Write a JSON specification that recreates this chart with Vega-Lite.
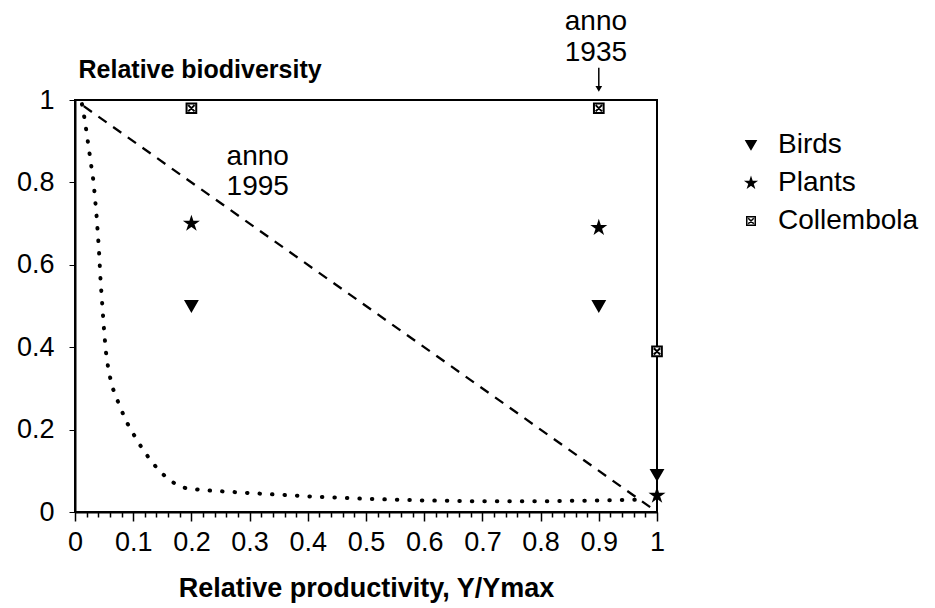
{
  "$schema": "https://vega.github.io/schema/vega-lite/v6.json",
  "width": 582,
  "height": 412,
  "autosize": "none",
  "padding": {"left": 75, "top": 100, "right": 278, "bottom": 96},
  "background": "white",
  "config": {
    "font": "Liberation Sans",
    "view": {"stroke": "black", "strokeWidth": 2}
  },
  "encoding": {
    "x": {
      "field": "x",
      "type": "quantitative",
      "scale": {"domain": [0, 1], "nice": false, "zero": false},
      "axis": {
        "values": [0, 0.02, 0.04, 0.06, 0.08, 0.1, 0.12, 0.14, 0.16, 0.18, 0.2, 0.22, 0.24, 0.26, 0.28, 0.3, 0.32, 0.34, 0.36, 0.38, 0.4, 0.42, 0.44, 0.46, 0.48, 0.5, 0.52, 0.54, 0.56, 0.58, 0.6, 0.62, 0.64, 0.66, 0.68, 0.7, 0.72, 0.74, 0.76, 0.78, 0.8, 0.82, 0.84, 0.86, 0.88, 0.9, 0.92, 0.94, 0.96, 0.98, 1],
        "labelExpr": "abs(round(datum.value*10)-datum.value*10)<0.001 ? format(datum.value,'~g') : ''",
        "tickSize": {"condition": {"test": "abs(round(datum.value*10)-datum.value*10)<0.001", "value": 9}, "value": 5},
        "tickColor": "black",
        "tickWidth": 1.5,
        "domainColor": "black",
        "domainWidth": 2,
        "grid": false,
        "labelFontSize": 27,
        "labelColor": "black",
        "labelPadding": 8,
        "labelFlush": false,
        "labelOverlap": false,
        "title": "Relative productivity, Y/Ymax",
        "titleFontSize": 27,
        "titleFontWeight": "bold",
        "titleColor": "black",
        "titlePadding": 20
      }
    },
    "y": {
      "field": "y",
      "type": "quantitative",
      "scale": {"domain": [0, 1], "nice": false, "zero": false},
      "axis": {
        "values": [0, 0.2, 0.4, 0.6, 0.8, 1],
        "labelExpr": "format(datum.value,'~g')",
        "tickSize": 6,
        "tickColor": "black",
        "tickWidth": 1,
        "domainColor": "black",
        "domainWidth": 2,
        "grid": false,
        "labelFontSize": 27,
        "labelColor": "black",
        "labelPadding": 15,
        "title": "Relative biodiversity",
        "titleAngle": 0,
        "titleAlign": "left",
        "titleBaseline": "alphabetic",
        "titleX": 3,
        "titleY": -23,
        "titleFontSize": 25,
        "titleFontWeight": "bold",
        "titleColor": "black"
      }
    }
  },
  "layer": [
    {
      "data": {"values": [{"x": 0.015, "y": 0.985}, {"x": 0.995, "y": 0.005}]},
      "mark": {"type": "line", "color": "black", "strokeWidth": 2.3, "strokeDash": [10, 8]}
    },
    {
      "data": {"values": [
        {"x": 0.012, "y": 0.99}, {"x": 0.017, "y": 0.95}, {"x": 0.022, "y": 0.9}, {"x": 0.027, "y": 0.85},
        {"x": 0.032, "y": 0.8}, {"x": 0.037, "y": 0.72}, {"x": 0.041, "y": 0.64}, {"x": 0.044, "y": 0.56},
        {"x": 0.047, "y": 0.5}, {"x": 0.05, "y": 0.44}, {"x": 0.053, "y": 0.39}, {"x": 0.058, "y": 0.34},
        {"x": 0.065, "y": 0.3}, {"x": 0.076, "y": 0.26}, {"x": 0.088, "y": 0.22}, {"x": 0.1, "y": 0.19},
        {"x": 0.115, "y": 0.155}, {"x": 0.13, "y": 0.125}, {"x": 0.145, "y": 0.1}, {"x": 0.16, "y": 0.08},
        {"x": 0.175, "y": 0.066}, {"x": 0.19, "y": 0.058}, {"x": 0.22, "y": 0.053}, {"x": 0.3, "y": 0.046},
        {"x": 0.4, "y": 0.038}, {"x": 0.5, "y": 0.032}, {"x": 0.6, "y": 0.028}, {"x": 0.7, "y": 0.026},
        {"x": 0.8, "y": 0.026}, {"x": 0.9, "y": 0.028}, {"x": 0.975, "y": 0.03}
      ]},
      "mark": {"type": "line", "color": "black", "strokeWidth": 4, "strokeDash": [0.5, 12], "strokeCap": "round"}
    },
    {
      "data": {"values": [
        {"x": 0.2, "y": 0.5, "group": "Birds"},
        {"x": 0.9, "y": 0.5, "group": "Birds"},
        {"x": 1.0, "y": 0.09, "group": "Birds"},
        {"x": 0.2, "y": 0.7, "group": "Plants"},
        {"x": 0.9, "y": 0.69, "group": "Plants"},
        {"x": 1.0, "y": 0.04, "group": "Plants"},
        {"x": 0.2, "y": 0.98, "group": "Collembola"},
        {"x": 0.9, "y": 0.98, "group": "Collembola"},
        {"x": 1.0, "y": 0.39, "group": "Collembola"}
      ]},
      "mark": {"type": "point", "filled": true, "strokeWidth": 2, "size": 130, "opacity": 1},
      "encoding": {
        "shape": {
          "field": "group",
          "type": "nominal",
          "scale": {
            "domain": ["Birds", "Plants", "Collembola"],
            "range": [
              "triangle-down",
              "M0,-1L0.225,-0.309L0.951,-0.309L0.363,0.118L0.588,0.809L0,0.382L-0.588,0.809L-0.363,0.118L-0.951,-0.309L-0.225,-0.309Z",
              "M-0.85,-0.85H0.85V0.85H-0.85Z M-0.55,-0.55L0.55,0.55 M0.55,-0.55L-0.55,0.55"
            ]
          },
          "legend": {
            "title": null,
            "orient": "none",
            "legendX": 662,
            "legendY": 31,
            "padding": 0,
            "labelFontSize": 28,
            "labelColor": "black",
            "labelFont": "Liberation Sans",
            "symbolSize": 100,
            "symbolStrokeWidth": 1.5,
            "rowPadding": 10,
            "labelOffset": 13
          }
        },
        "fill": {
          "field": "group",
          "type": "nominal",
          "scale": {"domain": ["Birds", "Plants", "Collembola"], "range": ["black", "black", "white"]},
          "legend": {
            "title": null,
            "orient": "none",
            "legendX": 662,
            "legendY": 31,
            "padding": 0,
            "labelFontSize": 28,
            "labelColor": "black",
            "labelFont": "Liberation Sans",
            "symbolSize": 100,
            "symbolStrokeWidth": 1.5,
            "rowPadding": 10,
            "labelOffset": 13
          }
        },
        "stroke": {
          "field": "group",
          "type": "nominal",
          "scale": {"domain": ["Birds", "Plants", "Collembola"], "range": ["black", "black", "black"]},
          "legend": {
            "title": null,
            "orient": "none",
            "legendX": 662,
            "legendY": 31,
            "padding": 0,
            "labelFontSize": 28,
            "labelColor": "black",
            "labelFont": "Liberation Sans",
            "symbolSize": 100,
            "symbolStrokeWidth": 1.5,
            "rowPadding": 10,
            "labelOffset": 13
          }
        }
      }
    },
    {
      "data": {"values": [
        {"x": 0.314, "y": 0.862, "label": "anno"},
        {"x": 0.314, "y": 0.789, "label": "1995"},
        {"x": 0.895, "y": 1.19, "label": "anno"},
        {"x": 0.895, "y": 1.114, "label": "1935"}
      ]},
      "mark": {"type": "text", "fontSize": 28, "color": "black", "align": "center", "baseline": "middle"},
      "encoding": {"text": {"field": "label", "type": "nominal"}}
    },
    {
      "data": {"values": [{"x": 0.9, "y": 1.078, "y2": 1.03}]},
      "mark": {"type": "rule", "color": "black", "strokeWidth": 1.5},
      "encoding": {"y2": {"field": "y2"}}
    },
    {
      "data": {"values": [{"x": 0.9, "y": 1.027}]},
      "mark": {"type": "point", "shape": "triangle-down", "filled": true, "color": "black", "size": 45, "opacity": 1}
    }
  ]
}
